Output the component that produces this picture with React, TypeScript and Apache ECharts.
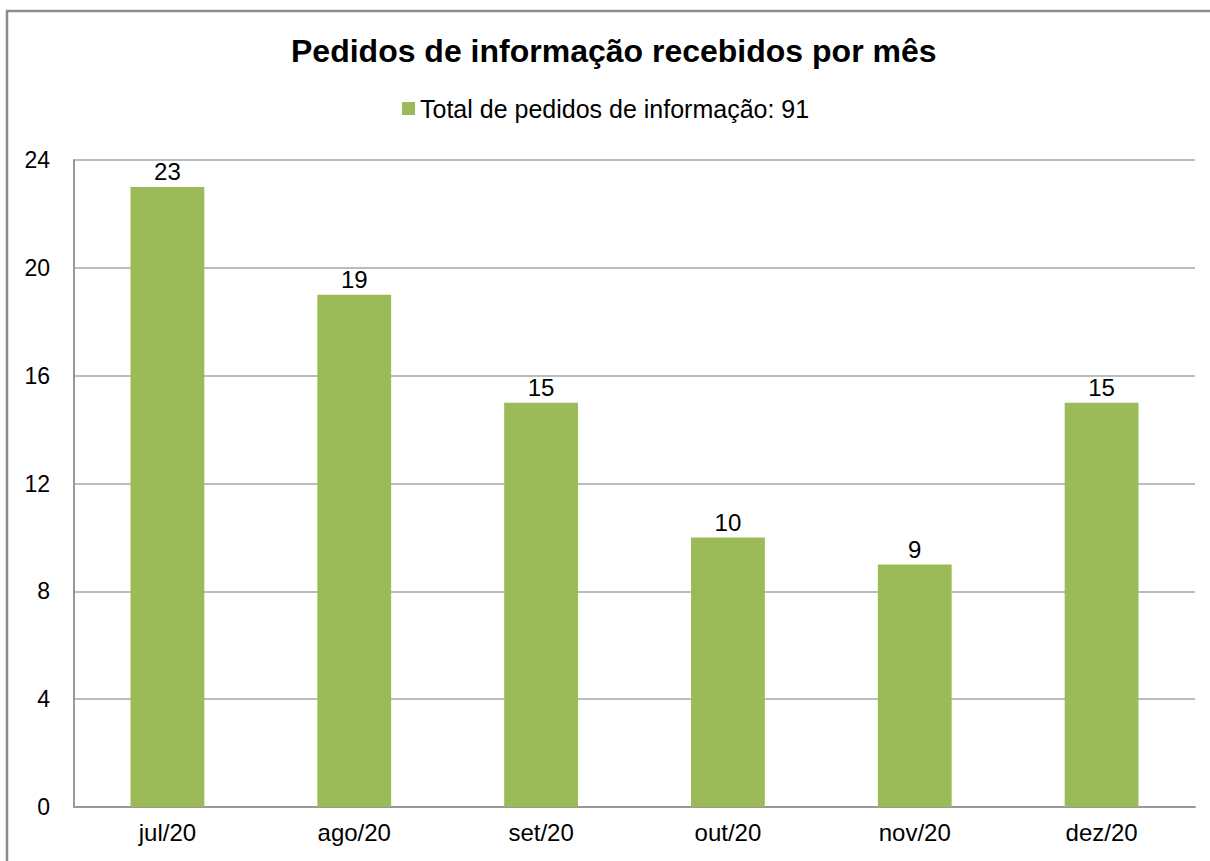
import React, { useEffect, useRef } from "react";
import * as echarts from "echarts";

const categories = ["jul/20", "ago/20", "set/20", "out/20", "nov/20", "dez/20"];
const values = [23, 19, 15, 10, 9, 15];
const seriesName = "Total de pedidos de informação: 91";
const titleText = "Pedidos de informação recebidos por mês";

export default function App() {
  const ref = useRef<HTMLDivElement>(null);
  useEffect(() => {
    if (!ref.current) return;
    const chart = echarts.init(ref.current, null, { renderer: "svg" });
    const font = "'Liberation Sans', Arial, sans-serif";
    chart.setOption({
      animation: false,
      backgroundColor: "#ffffff",
      textStyle: { fontFamily: font },
      title: {
        text: titleText,
        left: 286,
        top: 30,
        textStyle: { fontSize: 32, fontWeight: "bold", color: "#000", fontFamily: font },
      },
      legend: {
        data: [seriesName],
        top: 91,
        left: 397,
        itemWidth: 13,
        itemHeight: 13,
        itemGap: 6,
        icon: "rect",
        textStyle: { fontSize: 25, color: "#000", fontFamily: font },
      },
      graphic: [
        {
          type: "rect",
          shape: { x: 7, y: 11, width: 1230, height: 880 },
          style: { fill: "none", stroke: "#8c8c8c", lineWidth: 2.5 },
          silent: true,
        },
      ],
      grid: { left: 74, right: 15, top: 160, bottom: 54, containLabel: false },
      xAxis: {
        type: "category",
        data: categories,
        axisLine: { show: true, lineStyle: { color: "#999", width: 2 } },
        axisTick: { show: false },
        axisLabel: { fontSize: 24, color: "#000", margin: 13, fontFamily: font },
        splitLine: { show: false },
      },
      yAxis: {
        type: "value",
        min: 0,
        max: 24,
        interval: 4,
        axisLine: { show: true, lineStyle: { color: "#999", width: 2 } },
        axisTick: { show: false },
        axisLabel: { fontSize: 23, color: "#000", margin: 24, fontFamily: font },
        splitLine: { show: true, lineStyle: { color: "#a6a6a6", width: 1.5 } },
      },
      series: [
        {
          name: seriesName,
          type: "bar",
          data: values,
          barWidth: "39.5%",
          itemStyle: { color: "#9BBB59" },
          label: {
            show: true,
            position: "top",
            distance: 3,
            fontSize: 24,
            color: "#000",
            fontFamily: font,
          },
        },
      ],
    });
    return () => chart.dispose();
  }, []);
  return (
    <div
      ref={ref}
      style={{ position: "fixed", left: 0, top: 0, width: 1210, height: 861 }}
    />
  );
}
